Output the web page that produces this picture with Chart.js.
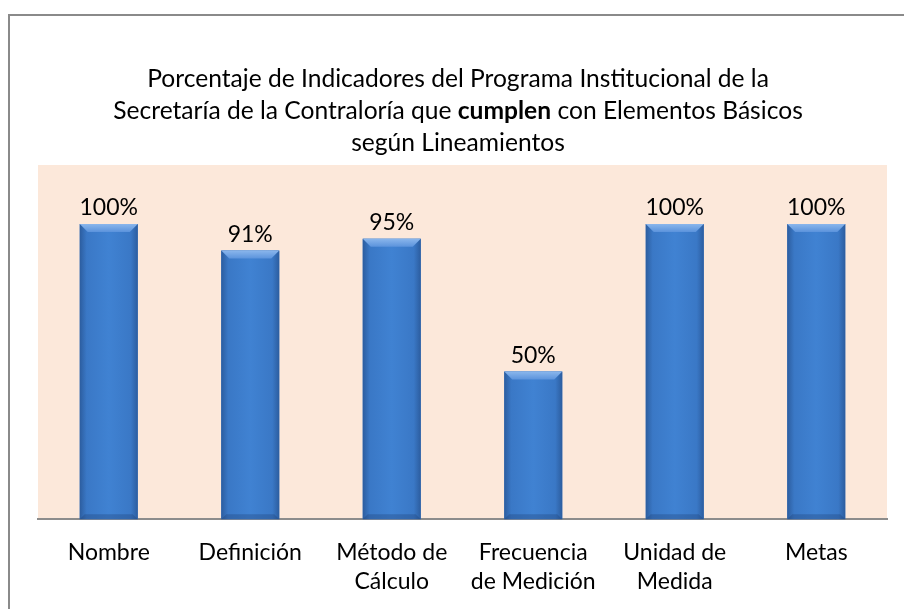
<!DOCTYPE html>
<html>
<head>
<meta charset="utf-8">
<script src="https://cdn.jsdelivr.net/npm/chart.js@4.4.0/dist/chart.umd.min.js"></script>
<style>
  body { margin: 0; background: #fff; }
  #frame { position: absolute; left: 8px; top: 14px; width: 920px; height: 620px; border: 2px solid #8a8a8a; box-sizing: border-box; }
  #wrap { position: absolute; left: 0; top: 0; width: 904px; height: 609px; }
</style>
</head>
<body>
<div id="frame"></div>
<div id="wrap"><canvas id="indicadoresChart"></canvas></div>
<script>
    // data
    const categories = [
        ['Nombre'],
        ['Definición'],
        ['Método de', 'Cálculo'],
        ['Frecuencia', 'de Medición'],
        ['Unidad de', 'Medida'],
        ['Metas']
    ];
    const cumplen = [100, 91, 95, 50, 100, 100];
    const titleLines = [
        [['Porcentaje de Indicadores del Programa Institucional de la', false]],
        [['Secretaría de la Contraloría que ', false], ['cumplen', true], [' con Elementos Básicos', false]],
        [['según Lineamientos', false]]
    ];

    const FONT = 'Lato, "Liberation Sans", sans-serif';

    // peach plot area background
    const plotBg = {
        id: 'plotBg',
        beforeDraw(chart) {
            const { ctx, chartArea: a } = chart;
            ctx.save();
            ctx.fillStyle = '#fce8da';
            ctx.fillRect(a.left, a.top, a.right - a.left, a.bottom - a.top);
            ctx.restore();
        }
    };

    // title with one bold word
    const richTitle = {
        id: 'richTitle',
        afterDraw(chart) {
            const ctx = chart.ctx;
            const cx = 458;
            ctx.save();
            ctx.fillStyle = '#000';
            ctx.textBaseline = 'middle';
            titleLines.forEach((parts, i) => {
                const y = 79 + i * 32;
                let total = 0;
                parts.forEach(p => {
                    ctx.font = (p[1] ? 'bold ' : '') + '24.6px ' + FONT;
                    total += ctx.measureText(p[0]).width;
                });
                let x = cx - total / 2;
                parts.forEach(p => {
                    ctx.font = (p[1] ? 'bold ' : '') + '24.6px ' + FONT;
                    ctx.textAlign = 'left';
                    ctx.fillText(p[0], x, y);
                    x += ctx.measureText(p[0]).width;
                });
            });
            ctx.restore();
        }
    };

    // bevel look on the bars + value labels
    const barStyle = {
        id: 'barStyle',
        afterDatasetsDraw(chart) {
            const ctx = chart.ctx;
            const meta = chart.getDatasetMeta(0);
            ctx.save();
            meta.data.forEach((bar, i) => {
                const x0 = bar.x - bar.width / 2, x1 = bar.x + bar.width / 2;
                const top = bar.y, base = bar.base;
                const g = ctx.createLinearGradient(x0, 0, x1, 0);
                g.addColorStop(0, '#2c5d9f');
                g.addColorStop(0.12, '#3a78c6');
                g.addColorStop(0.5, '#4082d2');
                g.addColorStop(0.88, '#3a78c6');
                g.addColorStop(1, '#2c5d9f');
                ctx.fillStyle = g;
                ctx.fillRect(x0, top, x1 - x0, base - top);
                const b = 8;
                // top bevel
                const tg = ctx.createLinearGradient(0, top, 0, top + b);
                tg.addColorStop(0, '#8ab6ec');
                tg.addColorStop(1, '#5b93dc');
                ctx.fillStyle = tg;
                ctx.beginPath();
                ctx.moveTo(x0, top); ctx.lineTo(x1, top);
                ctx.lineTo(x1 - b, top + b); ctx.lineTo(x0 + b, top + b);
                ctx.closePath(); ctx.fill();
                // bottom bevel
                ctx.fillStyle = 'rgba(30,60,110,0.3)';
                ctx.beginPath();
                ctx.moveTo(x0, base); ctx.lineTo(x1, base);
                ctx.lineTo(x1 - 5, base - 5); ctx.lineTo(x0 + 5, base - 5);
                ctx.closePath(); ctx.fill();

                ctx.fillStyle = '#000';
                ctx.font = '23px ' + FONT;
                ctx.textAlign = 'center';
                ctx.textBaseline = 'alphabetic';
                ctx.fillText(cumplen[i] + '%', bar.x, top - 9);
            });
            ctx.restore();
        }
    };

    const ctx = document.getElementById('indicadoresChart').getContext('2d');
    const indicadoresChart = new Chart(ctx, {
        type: 'bar',
        data: {
            labels: categories,
            datasets: [{
                label: 'Cumplen',
                data: cumplen,
                backgroundColor: '#3d7ccb',
                barPercentage: 0.41,
                categoryPercentage: 1
            }]
        },
        options: {
            responsive: true,
            maintainAspectRatio: false,
            animation: false,
            layout: { padding: { left: 38, right: 17, top: 165, bottom: -6 } },
            plugins: {
                legend: { display: false },
                tooltip: { enabled: false },
                title: { display: false }
            },
            scales: {
                x: {
                    grid: { display: false, drawTicks: false },
                    border: { display: true, color: '#8c8c8c', width: 2 },
                    ticks: {
                        color: '#000',
                        padding: 18,
                        font: { family: FONT, size: 23, lineHeight: 1.3 },
                        maxRotation: 0,
                        autoSkip: false
                    }
                },
                y: {
                    display: false,
                    min: 0,
                    max: 120
                }
            }
        },
        plugins: [plotBg, richTitle, barStyle]
    });
</script>
</body>
</html>
